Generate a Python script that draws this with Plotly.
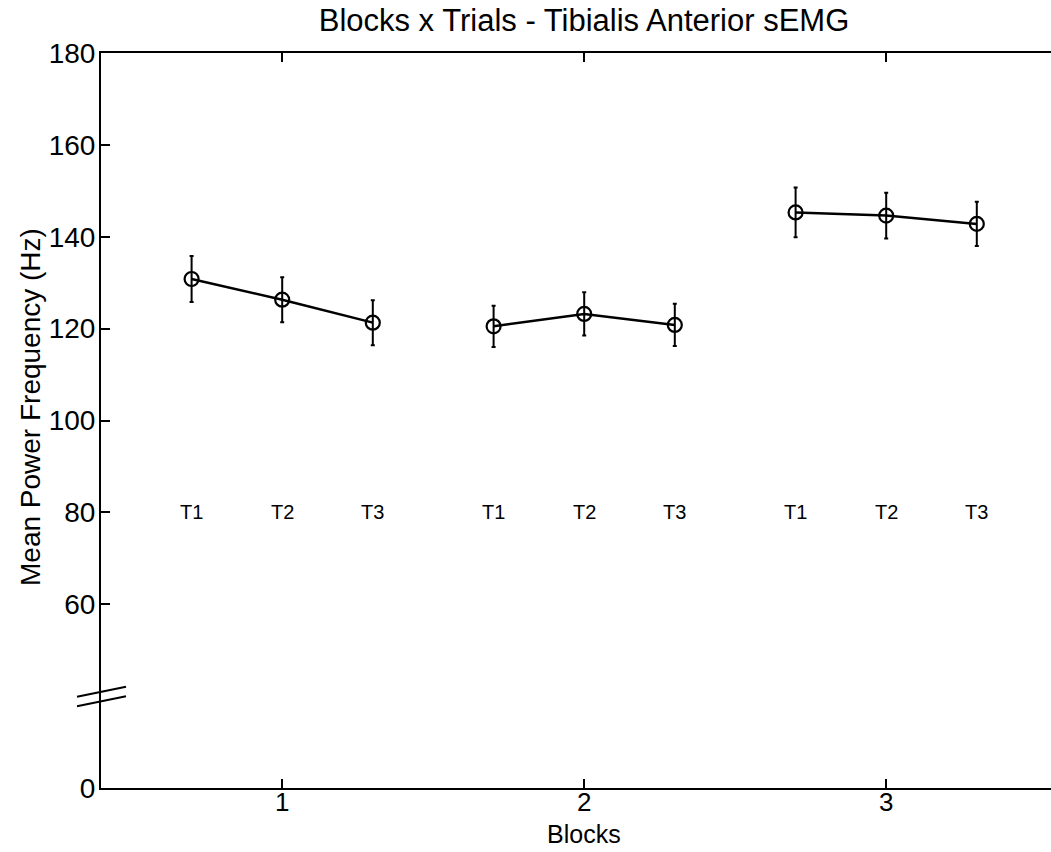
import plotly.graph_objects as go

# ---- data ----
blocks = ["1", "2", "3"]
trial_labels = ["T1", "T2", "T3"]
x_block1 = [0.7, 1.0, 1.3]
x_block2 = [1.7, 2.0, 2.3]
x_block3 = [2.7, 3.0, 3.3]
mpf_block1 = [130.8, 126.3, 121.3]
mpf_block2 = [120.5, 123.2, 120.8]
mpf_block3 = [145.3, 144.6, 142.8]
err_block1 = [5.0, 4.9, 4.9]
err_block2 = [4.5, 4.7, 4.6]
err_block3 = [5.4, 5.0, 4.8]
label_y = 80
y_tickvals = [20, 60, 80, 100, 120, 140, 160, 180]
y_ticktext = ["0", "60", "80", "100", "120", "140", "160", "180"]
x_tickvals = [1, 2, 3]

FONT = "Liberation Sans, Arial, sans-serif"
W, H = 1051, 852
L, R, T, B = 101, 0, 53, 64

fig = go.Figure()
for xs, ys, es in [(x_block1, mpf_block1, err_block1),
                   (x_block2, mpf_block2, err_block2),
                   (x_block3, mpf_block3, err_block3)]:
    fig.add_trace(go.Scatter(
        x=xs, y=ys, mode="lines+markers",
        line=dict(color="black", width=2.5),
        marker=dict(symbol="circle-open", size=14, color="black", line=dict(width=2.2)),
        error_y=dict(type="data", array=es, visible=True, color="black", thickness=2, width=2),
        showlegend=False, cliponaxis=False,
    ))

for xs in [x_block1, x_block2, x_block3]:
    for xv, lab in zip(xs, trial_labels):
        fig.add_annotation(x=xv, y=label_y, text=lab, showarrow=False,
                           font=dict(family=FONT, size=20, color="black"))

pw = W - L - R
ph = H - T - B
# axis-break marks (pixel offsets converted to paper fractions)
for dy in [0.0, -9.5]:
    fig.add_shape(type="line", xref="paper", yref="paper",
                  x0=-24 / pw, y0=(91.3 + dy) / ph, x1=25 / pw, y1=(101.3 + dy) / ph,
                  line=dict(color="black", width=2))

# axis titles
fig.add_annotation(text="Blocks", xref="x", yref="paper", x=2, y=-46 / ph,
                   yanchor="middle", showarrow=False,
                   font=dict(family=FONT, size=25, color="black"))
fig.add_annotation(text="Mean Power Frequency (Hz)", xref="paper", yref="paper",
                   x=-71 / pw, y=(788 - 407) / ph, textangle=-90, xanchor="center",
                   yanchor="middle", showarrow=False,
                   font=dict(family=FONT, size=28, color="black"))

fig.update_layout(
    width=W, height=H,
    margin=dict(l=L, r=R, t=T, b=B),
    paper_bgcolor="white", plot_bgcolor="white",
    title=dict(text="Blocks x Trials - Tibialis Anterior sEMG", x=584 / W, xref="container",
               xanchor="center", y=1 - 20 / H, yanchor="middle",
               font=dict(family=FONT, size=31, color="black")),
    font=dict(family=FONT, color="black"),
)
fig.update_xaxes(range=[0.4, 0.4 + pw / 302.0], tickvals=x_tickvals, ticktext=blocks,
                 ticks="inside", ticklen=9, tickwidth=1.5, tickcolor="black",
                 showline=True, linecolor="black", linewidth=2, mirror="ticks",
                 showgrid=False, zeroline=False, ticklabelstandoff=-10,
                 tickfont=dict(family=FONT, size=26))
fig.update_yaxes(range=[20, 180], tickvals=y_tickvals, ticktext=y_ticktext,
                 ticks="inside", ticklen=9, tickwidth=1.5, tickcolor="black",
                 showline=True, linecolor="black", linewidth=2,
                 showgrid=False, zeroline=False, ticklabelstandoff=-2,
                 tickfont=dict(family=FONT, size=28))

fig.write_html("out.html")
